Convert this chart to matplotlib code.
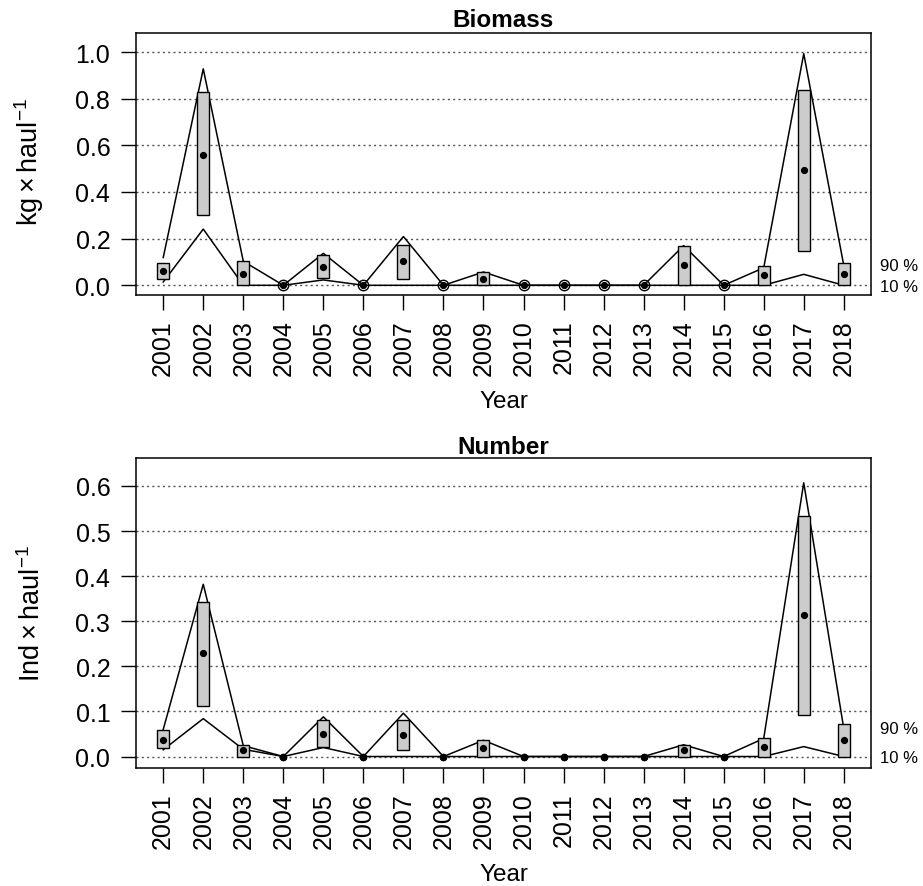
"""Biomass and number per haul by year: mean, box range and 10/90 % lines.

Outputs: out.png
"""
import matplotlib
matplotlib.use("Agg")
import matplotlib.pyplot as plt
import matplotlib.transforms as mtransforms
import numpy as np

years = list(range(2001, 2019))

# Biomass (kg x haul^-1)
bio_mean = [0.062, 0.560, 0.050, 0, 0.079, 0, 0.105, 0, 0.029,
            0, 0, 0, 0, 0.086, 0, 0.042, 0.493, 0.050]
bio_box_lo = [0.029, 0.301, 0, 0, 0.033, 0, 0.026, 0, 0,
              0, 0, 0, 0, 0, 0, 0, 0.148, 0]
bio_box_hi = [0.097, 0.828, 0.104, 0, 0.129, 0, 0.173, 0, 0.057,
              0, 0, 0, 0, 0.168, 0, 0.083, 0.838, 0.097]
bio_q90 = [0.119, 0.928, 0.103, 0, 0.137, 0, 0.209, 0, 0.057,
           0, 0, 0, 0, 0.170, 0, 0.075, 0.993, 0.085]
bio_q10 = [0.014, 0.241, 0, 0, 0.023, 0, 0, 0, 0,
           0, 0, 0, 0, 0, 0, 0, 0.047, 0]

# Number (Ind x haul^-1)
num_mean = [0.037, 0.229, 0.014, 0, 0.051, 0, 0.047, 0, 0.018,
            0, 0, 0, 0, 0.014, 0, 0.0215, 0.314, 0.036]
num_box_lo = [0.018, 0.113, 0, 0, 0.022, 0, 0.014, 0, 0,
              0, 0, 0, 0, 0, 0, 0, 0.092, 0]
num_box_hi = [0.059, 0.342, 0.025, 0, 0.080, 0, 0.081, 0, 0.036,
              0, 0, 0, 0, 0.026, 0, 0.040, 0.533, 0.072]
num_q90 = [0.060, 0.382, 0.024, 0, 0.088, 0, 0.096, 0, 0.036,
           0, 0, 0, 0, 0.026, 0, 0.040, 0.607, 0.062]
num_q10 = [0.015, 0.084, 0.016, 0, 0.020, 0, 0, 0, 0,
           0, 0, 0, 0, 0, 0, 0, 0.022, 0]

bio_yticks = [0.0, 0.2, 0.4, 0.6, 0.8, 1.0]
num_yticks = [0.0, 0.1, 0.2, 0.3, 0.4, 0.5, 0.6]

plt.rcParams.update({
    "font.family": "Liberation Sans",
    "mathtext.fontset": "custom",
    "mathtext.rm": "Liberation Sans",
    "mathtext.it": "Liberation Sans:italic",
    "mathtext.bf": "Liberation Sans:bold",
    "axes.linewidth": 1.1,
})

W, H = 923, 887
fig = plt.figure(figsize=(W / 100, H / 100), dpi=100)


def px_axes(left, top, right, bottom):
    return fig.add_axes([left / W, 1 - bottom / H, (right - left) / W, (bottom - top) / H])


def panel(ax, title, ylabel, mean, lo, hi, q90, q10, yticks, ymax, zero_ms, title_pad):
    x = np.array(years)
    mean, lo, hi = np.array(mean), np.array(lo), np.array(hi)

    for t in yticks:
        ax.axhline(t, color="#555555", lw=1.0, ls=(0, (1.5, 2.3)), zorder=0)

    ax.plot(x, q90, color="black", lw=1.1, zorder=2)
    ax.plot(x, q10, color="black", lw=1.1, zorder=2)

    nz = hi > 0
    ax.bar(x[nz], (hi - lo)[nz], bottom=lo[nz], width=0.3, color="#cccccc",
           edgecolor="black", linewidth=1.0, zorder=3)

    zero = ~nz
    ax.plot(x[zero], mean[zero], ls="none", marker="o", ms=zero_ms, mfc="none",
            mec="black", mew=1.0, zorder=4)
    ax.plot(x, mean, ls="none", marker="o", ms=4.2, color="black", zorder=5)

    # quantile labels just outside the right edge
    trans = mtransforms.blended_transform_factory(ax.transAxes, ax.transData)
    ax.text(1.012, q90[-1], "90 %", transform=trans, fontsize=12,
            va="center", ha="left")
    ax.text(1.012, q10[-1] - 0.005 * ymax, "10 %", transform=trans, fontsize=12,
            va="center", ha="left")

    ax.set_xlim(2001 - 0.68, 2018 + 0.68)
    ax.set_ylim(-0.04 * ymax, 1.04 * ymax)
    ax.set_xticks(years)
    ax.set_xticklabels([str(y) for y in years], rotation=90)
    ax.set_yticks(yticks)
    ax.set_yticklabels([f"{t:.1f}" for t in yticks])
    ax.tick_params(axis="both", direction="out", length=10.5, width=1.0,
                   labelsize=18, color="black")
    ax.tick_params(axis="x", pad=7)
    ax.tick_params(axis="y", pad=8)

    ax.set_title(title, fontsize=17.5, fontweight="bold", pad=title_pad)
    ax.set_ylabel(ylabel, fontsize=19.5)
    ax.set_xlabel("Year", fontsize=17.5, va="top")
    for s in ax.spines.values():
        s.set_color("black")


ax1 = px_axes(136, 34, 871, 296)
panel(ax1, "Biomass", r"$\mathrm{kg}\times\mathrm{haul}^{-1}$", bio_mean, bio_box_lo,
      bio_box_hi, bio_q90, bio_q10, bio_yticks, 1.04, 7.5, 5.2)
ax1.yaxis.set_label_coords(-0.122, 0.51)
ax1.xaxis.set_label_coords(0.5, -95 / 262)

ax2 = px_axes(136, 459, 871, 769)
panel(ax2, "Number", r"$\mathrm{Ind}\times\mathrm{haul}^{-1}$", num_mean, num_box_lo,
      num_box_hi, num_q90, num_q10, num_yticks, 0.6365, 4.5, 3.2)
ax2.yaxis.set_label_coords(-0.122, 0.5)
ax2.xaxis.set_label_coords(0.5, -95 / 310)

fig.savefig("out.png", dpi=100)
